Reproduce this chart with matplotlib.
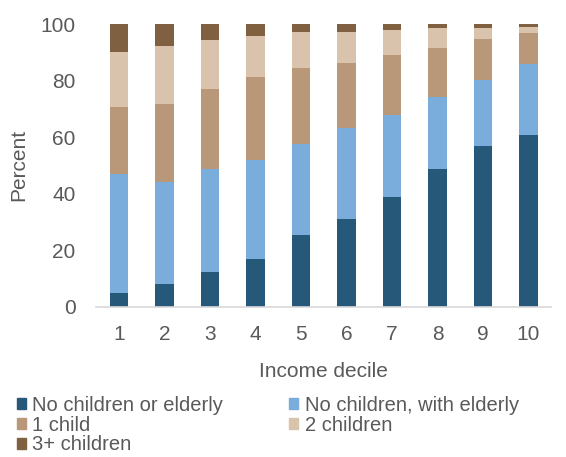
import numpy as np
import matplotlib.pyplot as plt
from matplotlib.patches import Patch

plt.rcParams['font.family'] = ['Liberation Sans', 'DejaVu Sans']

# data (percent of households by income decile)
deciles = ['1', '2', '3', '4', '5', '6', '7', '8', '9', '10']
series_names = ['No children or elderly', 'No children, with elderly',
                '1 child', '2 children', '3+ children']
no_children_or_elderly = [4.7, 8.0, 12.3, 17.0, 25.4, 31.1, 39.0, 48.9, 56.9, 60.6]
no_children_with_elderly = [42.3, 36.2, 36.5, 35.1, 32.3, 32.3, 29.0, 25.2, 23.4, 25.3]
one_child = [23.8, 27.6, 28.2, 29.1, 26.8, 23.0, 21.2, 17.4, 14.5, 11.0]
two_children = [19.3, 20.6, 17.3, 14.5, 12.7, 10.8, 8.9, 7.0, 4.0, 2.1]
three_plus_children = [9.9, 7.6, 5.7, 4.3, 2.8, 2.8, 1.9, 1.5, 1.2, 1.0]

colors = ['#26587a', '#7aacdc', '#b89878', '#d9c3ad', '#7f6142']
text_col = '#595959'

fig = plt.figure(figsize=(5.66, 4.57), dpi=100)
ax = fig.add_axes([0.170, 0.329, 0.804, 0.618])

x = np.arange(1, len(deciles) + 1)
bottom = np.zeros(len(deciles))
all_series = [no_children_or_elderly, no_children_with_elderly, one_child,
              two_children, three_plus_children]
for vals, col, name in zip(all_series, colors, series_names):
    ax.bar(x, vals, width=0.4, bottom=bottom, color=col, label=name, zorder=2)
    bottom += np.array(vals)

ax.set_xlim(0.5, 10.5)
ax.set_ylim(0, 100)
ax.set_yticks([0, 20, 40, 60, 80, 100])
ax.set_xticks(x)
ax.set_xticklabels(deciles)
ax.tick_params(length=0, labelsize=15, colors=text_col)
ax.tick_params(axis='x', pad=13)
ax.tick_params(axis='y', pad=15)
for s in ['top', 'right', 'left']:
    ax.spines[s].set_visible(False)
ax.spines['bottom'].set_color('#d9d9d9')
ax.spines['bottom'].set_linewidth(1.2)

ax.set_xlabel('Income decile', fontsize=15, color=text_col, labelpad=13)
ax.set_ylabel('Percent', fontsize=15, color=text_col, labelpad=9)

# legend rows: fill row-wise by reordering for column-major layout
handles = [Patch(color=c) for c in colors]
order = [0, 2, 4, 1, 3]
fig.legend([handles[i] for i in order], [series_names[i] for i in order],
           loc='upper left', bbox_to_anchor=(0.03, 0.134), ncol=2,
           frameon=False, fontsize=14.5, labelcolor=text_col,
           handlelength=0.45, handleheight=0.45, handletextpad=0.3,
           columnspacing=3.3, labelspacing=0.04, borderpad=0, borderaxespad=0)

fig.savefig('out.png', dpi=100)
